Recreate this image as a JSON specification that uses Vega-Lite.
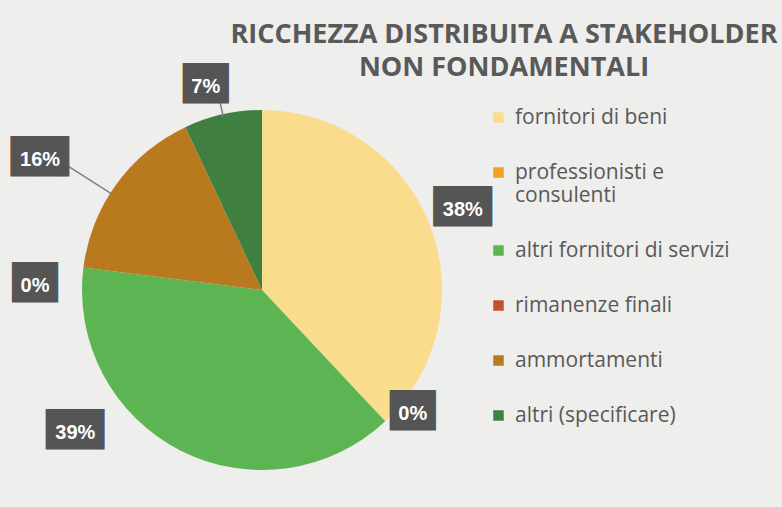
{
  "$schema": "https://vega.github.io/schema/vega-lite/v6.json",
  "width": 524,
  "height": 400,
  "autosize": "none",
  "padding": {"left": 0, "top": 90, "right": 258, "bottom": 17},
  "background": "#eeeeec",
  "view": {"stroke": null},
  "title": {
    "text": ["RICCHEZZA DISTRIBUITA A STAKEHOLDER", "NON FONDAMENTALI"],
    "anchor": "middle",
    "dx": 242,
    "font": "Open Sans",
    "fontSize": 27,
    "fontWeight": "bold",
    "color": "#595959",
    "lineHeight": 33,
    "offset": -14
  },
  "data": {
    "values": [
      {"categoria": "fornitori di beni", "quota": 0.38, "ordine": 1},
      {"categoria": "professionisti e consulenti", "quota": 0.0, "ordine": 2},
      {"categoria": "altri fornitori di servizi", "quota": 0.39, "ordine": 3},
      {"categoria": "rimanenze finali", "quota": 0.0, "ordine": 4},
      {"categoria": "ammortamenti", "quota": 0.16, "ordine": 5},
      {"categoria": "altri (specificare)", "quota": 0.07, "ordine": 6}
    ]
  },
  "transform": [
    {"stack": "quota", "groupby": [], "sort": [{"field": "ordine", "order": "ascending"}], "as": ["q0", "q1"]},
    {"calculate": "(datum.q0 + datum.q1) / 2", "as": "qm"}
  ],
  "layer": [
    {
      "mark": {"type": "arc"},
      "encoding": {
        "theta": {"field": "q0", "type": "quantitative", "stack": null, "scale": {"domain": [0, 1]}},
        "theta2": {"field": "q1"},
        "radius": {"value": 180},
        "color": {
          "field": "categoria",
          "type": "nominal",
          "sort": ["fornitori di beni", "professionisti e consulenti", "altri fornitori di servizi", "rimanenze finali", "ammortamenti", "altri (specificare)"],
          "scale": {
            "domain": ["fornitori di beni", "professionisti e consulenti", "altri fornitori di servizi", "rimanenze finali", "ammortamenti", "altri (specificare)"],
            "range": ["#f9dd8c", "#f0a022", "#5cb452", "#c4512b", "#b8791f", "#3f7f3f"]
          },
          "legend": {
            "orient": "none",
            "legendX": 488,
            "legendY": 17,
            "title": null,
            "symbolType": "square",
            "symbolSize": 110,
            "symbolStrokeWidth": 0,
            "labelFont": "Open Sans",
            "labelFontSize": 21,
            "labelColor": "#595959",
            "labelLimit": 300,
            "labelOffset": 6,
            "rowPadding": 33,
            "labelExpr": "datum.label == 'professionisti e consulenti' ? ['professionisti e', 'consulenti'] : datum.label"
          }
        }
      }
    },
    {
      "transform": [{"filter": {"field": "categoria", "equal": "fornitori di beni"}}],
      "encoding": {
        "theta": {"field": "qm", "type": "quantitative", "stack": null, "scale": {"domain": [0, 1]}},
        "radius": {"value": 216}
      },
      "layer": [
        {"mark": {"type": "text", "font": "DejaVu Sans", "fontSize": 34, "baseline": "middle", "align": "left", "dx": -29.5, "dy": -2},
         "encoding": {"text": {"condition": {"test": "datum.quota >= 0.1", "value": "██▎"}, "value": "█▊"}, "color": {"value": "#555555"}}},
        {"mark": {"type": "text", "font": "Liberation Sans", "fontSize": 20, "fontWeight": "bold", "baseline": "middle"},
         "encoding": {"text": {"field": "quota", "type": "quantitative", "format": ".0%"}, "color": {"value": "#ffffff"}}}
      ]
    },
    {
      "transform": [{"filter": {"field": "categoria", "equal": "professionisti e consulenti"}}],
      "encoding": {
        "theta": {"field": "qm", "type": "quantitative", "stack": null, "scale": {"domain": [0, 1]}},
        "radius": {"value": 195}
      },
      "layer": [
        {"mark": {"type": "text", "font": "DejaVu Sans", "fontSize": 34, "baseline": "middle", "align": "left", "dx": -23, "dy": -2, "thetaOffset": -0.13},
         "encoding": {"text": {"condition": {"test": "datum.quota >= 0.1", "value": "██▎"}, "value": "█▊"}, "color": {"value": "#555555"}}},
        {"mark": {"type": "text", "font": "Liberation Sans", "fontSize": 20, "fontWeight": "bold", "baseline": "middle", "thetaOffset": -0.13},
         "encoding": {"text": {"field": "quota", "type": "quantitative", "format": ".0%"}, "color": {"value": "#ffffff"}}}
      ]
    },
    {
      "transform": [{"filter": {"field": "categoria", "equal": "altri fornitori di servizi"}}],
      "encoding": {
        "theta": {"field": "qm", "type": "quantitative", "stack": null, "scale": {"domain": [0, 1]}},
        "radius": {"value": 235}
      },
      "layer": [
        {"mark": {"type": "text", "font": "DejaVu Sans", "fontSize": 34, "baseline": "middle", "align": "left", "dx": -29.5, "dy": -2, "thetaOffset": 0.447},
         "encoding": {"text": {"condition": {"test": "datum.quota >= 0.1", "value": "██▎"}, "value": "█▊"}, "color": {"value": "#555555"}}},
        {"mark": {"type": "text", "font": "Liberation Sans", "fontSize": 20, "fontWeight": "bold", "baseline": "middle", "thetaOffset": 0.447},
         "encoding": {"text": {"field": "quota", "type": "quantitative", "format": ".0%"}, "color": {"value": "#ffffff"}}}
      ]
    },
    {
      "transform": [{"filter": {"field": "categoria", "equal": "rimanenze finali"}}],
      "encoding": {
        "theta": {"field": "qm", "type": "quantitative", "stack": null, "scale": {"domain": [0, 1]}},
        "radius": {"value": 227}
      },
      "layer": [
        {"mark": {"type": "text", "font": "DejaVu Sans", "fontSize": 34, "baseline": "middle", "align": "left", "dx": -23, "dy": -2, "thetaOffset": -0.11},
         "encoding": {"text": {"condition": {"test": "datum.quota >= 0.1", "value": "██▎"}, "value": "█▊"}, "color": {"value": "#555555"}}},
        {"mark": {"type": "text", "font": "Liberation Sans", "fontSize": 20, "fontWeight": "bold", "baseline": "middle", "thetaOffset": -0.11},
         "encoding": {"text": {"field": "quota", "type": "quantitative", "format": ".0%"}, "color": {"value": "#ffffff"}}}
      ]
    },
    {
      "transform": [{"filter": {"field": "categoria", "equal": "ammortamenti"}}],
      "encoding": {
        "theta": {"field": "qm", "type": "quantitative", "stack": null, "scale": {"domain": [0, 1]}},
        "radius": {"value": 257}
      },
      "layer": [
        {"mark": {"type": "arc", "filled": false, "strokeWidth": 1.5, "thetaOffset": -0.06, "theta2Offset": -0.06},
         "encoding": {"theta2": {"field": "qm"}, "radius": {"value": 178}, "radius2": {"value": 245}, "color": {"value": "#7f7f7f"}}},
        {"mark": {"type": "text", "font": "DejaVu Sans", "fontSize": 34, "baseline": "middle", "align": "left", "dx": -29.5, "dy": -2, "thetaOffset": -0.1},
         "encoding": {"text": {"condition": {"test": "datum.quota >= 0.1", "value": "██▎"}, "value": "█▊"}, "color": {"value": "#555555"}}},
        {"mark": {"type": "text", "font": "Liberation Sans", "fontSize": 20, "fontWeight": "bold", "baseline": "middle", "thetaOffset": -0.1},
         "encoding": {"text": {"field": "quota", "type": "quantitative", "format": ".0%"}, "color": {"value": "#ffffff"}}}
      ]
    },
    {
      "transform": [{"filter": {"field": "categoria", "equal": "altri (specificare)"}}],
      "encoding": {
        "theta": {"field": "qm", "type": "quantitative", "stack": null, "scale": {"domain": [0, 1]}},
        "radius": {"value": 211}
      },
      "layer": [
        {"mark": {"type": "arc", "filled": false, "strokeWidth": 1.5},
         "encoding": {"theta2": {"field": "qm"}, "radius": {"value": 178}, "radius2": {"value": 205}, "color": {"value": "#7f7f7f"}}},
        {"mark": {"type": "text", "font": "DejaVu Sans", "fontSize": 34, "baseline": "middle", "align": "left", "dx": -23, "dy": -2, "thetaOffset": -0.05},
         "encoding": {"text": {"condition": {"test": "datum.quota >= 0.1", "value": "██▎"}, "value": "█▊"}, "color": {"value": "#555555"}}},
        {"mark": {"type": "text", "font": "Liberation Sans", "fontSize": 20, "fontWeight": "bold", "baseline": "middle", "thetaOffset": -0.05},
         "encoding": {"text": {"field": "quota", "type": "quantitative", "format": ".0%"}, "color": {"value": "#ffffff"}}}
      ]
    }
  ]
}
